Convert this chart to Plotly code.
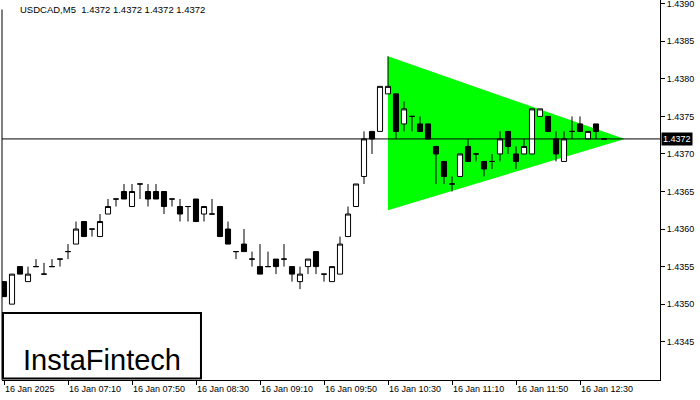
import plotly.graph_objects as go

# ---- data -------------------------------------------------------------
bar_index = list(range(76))
opens = [1.4353, 1.4350, 1.4355, 1.4353, 1.4355, 1.4354, 1.4355, 1.4356, 1.4357, 1.4358,
         1.4361, 1.4360, 1.4359, 1.4362, 1.4364, 1.4365, 1.4363, 1.4366, 1.4365, 1.4365,
         1.4365, 1.4364, 1.4363, 1.4363, 1.4364, 1.4362, 1.4362, 1.4363, 1.4360, 1.4357,
         1.4358, 1.4356, 1.4355, 1.4355, 1.4356, 1.4356, 1.4355, 1.4353, 1.4355, 1.4357,
         1.4354, 1.4353, 1.4354, 1.4359, 1.4363, 1.4367, 1.4373, 1.4373, 1.4378, 1.4378,
         1.4374, 1.4375, 1.4374, 1.4374, 1.4371, 1.4369, 1.4366, 1.4367, 1.4371, 1.4370,
         1.4369, 1.4369, 1.4370, 1.4373, 1.4370, 1.4370, 1.4370, 1.4375, 1.4375, 1.4372,
         1.4369, 1.4373, 1.4374, 1.4372, 1.4374, 1.4372]
highs = [1.4353, 1.4354, 1.4355, 1.4355, 1.4356, 1.43555, 1.4356, 1.4356, 1.4358, 1.4361,
         1.4361, 1.4360, 1.4362, 1.4364, 1.4364, 1.4366, 1.4366, 1.4366, 1.4366, 1.4366,
         1.4365, 1.4364, 1.4364, 1.4363, 1.4364, 1.4363, 1.4364, 1.4363, 1.4361, 1.4357,
         1.4360, 1.4357, 1.4358, 1.4357, 1.4356, 1.4358, 1.4355, 1.4355, 1.4356, 1.4357,
         1.4354, 1.4355, 1.4359, 1.4363, 1.4366, 1.4373, 1.4373, 1.4379, 1.4383, 1.4378,
         1.4377, 1.4375, 1.4375, 1.4374, 1.4371, 1.4369, 1.4367, 1.4370, 1.4372, 1.4370,
         1.4369, 1.4370, 1.4373, 1.4373, 1.4371, 1.4372, 1.4376, 1.4376, 1.4375, 1.4373,
         1.4373, 1.4375, 1.4375, 1.4373, 1.4374, 1.4372]
lows = [1.4351, 1.4350, 1.4354, 1.4353, 1.4355, 1.4354, 1.4355, 1.4355, 1.4356, 1.4358,
        1.4359, 1.4359, 1.4359, 1.4362, 1.4363, 1.4364, 1.4363, 1.4364, 1.4363, 1.4364,
        1.4362, 1.4363, 1.4361, 1.4361, 1.4361, 1.4361, 1.4362, 1.4359, 1.4358, 1.4356,
        1.4357, 1.4355, 1.4354, 1.4355, 1.4354, 1.4355, 1.4353, 1.4352, 1.4354, 1.4354,
        1.4353, 1.4353, 1.4354, 1.4359, 1.4363, 1.4366, 1.4370, 1.4373, 1.4378, 1.4372,
        1.4373, 1.4373, 1.4373, 1.4372, 1.4366, 1.4366, 1.4365, 1.4367, 1.4369, 1.4369,
        1.4367, 1.4368, 1.4369, 1.4370, 1.4368, 1.4370, 1.4370, 1.4375, 1.4373, 1.4369,
        1.4369, 1.4372, 1.4373, 1.4372, 1.4372, 1.4372]
closes = [1.4351, 1.4354, 1.4354, 1.4354, 1.4355, 1.4354, 1.4355, 1.4356, 1.4357, 1.4360,
          1.4359, 1.4360, 1.4361, 1.4363, 1.4364, 1.4364, 1.4365, 1.4366, 1.4364, 1.4364,
          1.4363, 1.4364, 1.4362, 1.4363, 1.4361, 1.4363, 1.4362, 1.4359, 1.4358, 1.4357,
          1.4357, 1.4356, 1.4354, 1.4355, 1.4355, 1.4356, 1.4354, 1.4354, 1.4356, 1.4355,
          1.4354, 1.4355, 1.4358, 1.4362, 1.4366, 1.4372, 1.4372, 1.4379, 1.4379, 1.4373,
          1.4376, 1.4375, 1.4373, 1.4372, 1.4370, 1.4367, 1.4366, 1.4370, 1.4369, 1.4370,
          1.4368, 1.4369, 1.4372, 1.4371, 1.4369, 1.4371, 1.4376, 1.4376, 1.4373, 1.4370,
          1.4372, 1.4373, 1.4373, 1.4373, 1.4373, 1.4372]

time_tick_index = [0, 8, 16, 24, 32, 40, 48, 56, 64, 72]
time_tick_labels = ["16 Jan 2025", "16 Jan 07:10", "16 Jan 07:50", "16 Jan 08:30",
                    "16 Jan 09:10", "16 Jan 09:50", "16 Jan 10:30", "16 Jan 11:10",
                    "16 Jan 11:50", "16 Jan 12:30"]
price_ticks = [1.4345, 1.4350, 1.4355, 1.4360, 1.4365, 1.4370, 1.4375, 1.4380, 1.4385, 1.4390]

triangle_x = [48, 77.6, 48]
triangle_y = [1.4383, 1.4372, 1.43625]

current_price = 1.4372
title_text = "USDCAD,M5  1.4372 1.4372 1.4372 1.4372"
brand_text = "InstaFintech"

# ---- figure -----------------------------------------------------------
fig = go.Figure()

fig.add_trace(go.Candlestick(
    x=bar_index, open=opens, high=highs, low=lows, close=closes,
    increasing=dict(line=dict(color="black", width=1), fillcolor="white"),
    decreasing=dict(line=dict(color="black", width=1), fillcolor="black"),
    whiskerwidth=0, showlegend=False, hoverinfo="skip"))

axis_font = dict(family="Liberation Sans, Arial, sans-serif", size=9, color="black")

fig.update_layout(
    width=700, height=400,
    margin=dict(l=2, r=40, t=0, b=20, pad=0, autoexpand=False),
    paper_bgcolor="white", plot_bgcolor="white",
    boxgap=0.2, boxgroupgap=0.2,
    showlegend=False, hovermode=False,
    xaxis=dict(range=[-0.25, 82], showgrid=False, zeroline=False, automargin=False,
               showline=True, linecolor="black", linewidth=1,
               ticks="outside", ticklen=4, tickcolor="black", tickwidth=1,
               tickvals=time_tick_index, ticktext=time_tick_labels,
               ticklabelposition="outside right", tickfont=axis_font,
               ticklabeloverflow="allow",
               rangeslider=dict(visible=False), fixedrange=True),
    yaxis=dict(range=[1.43399, 1.43905], side="right", showgrid=False, zeroline=False,
               automargin=False,
               showline=True, linecolor="black", linewidth=1,
               ticks="outside", ticklen=4, tickcolor="black", tickwidth=1,
               tickvals=price_ticks, ticktext=[f"{v:.4f}" for v in price_ticks],
               tickfont=axis_font, ticklabeloverflow="allow", fixedrange=True),
)

# triangle pattern, drawn beneath the candles
tri_path = "M " + " L ".join(f"{x},{y}" for x, y in zip(triangle_x, triangle_y)) + " Z"
fig.add_shape(type="path", xref="x", yref="y", path=tri_path,
              fillcolor="#00ff00", line=dict(width=0), layer="below")

# left border of the chart frame
fig.add_shape(type="line", xref="paper", yref="paper", x0=0, x1=0, y0=0, y1=0.975,
              line=dict(color="black", width=1))
# bid line
fig.add_shape(type="line", xref="paper", yref="y", x0=0, x1=1, y0=current_price, y1=current_price,
              line=dict(color="black", width=1), layer="above")
# logo box
fig.add_shape(type="rect", xref="paper", yref="paper", x0=0.0015, x1=0.3024, y0=0.004, y1=0.176,
              line=dict(color="black", width=2), fillcolor="white", layer="above")

fig.add_annotation(xref="paper", yref="paper", x=0.0243, y=0.974, xanchor="left", yanchor="middle",
                   text=title_text, showarrow=False,
                   font=dict(family="Liberation Sans, Arial, sans-serif", size=9.5, color="black"))
fig.add_annotation(xref="paper", yref="paper", x=0.152, y=0.052, xanchor="center", yanchor="middle",
                   text=brand_text, showarrow=False,
                   font=dict(family="Liberation Sans, Arial, sans-serif", size=29, color="black"))
fig.add_annotation(xref="paper", yref="y", x=1.0, y=current_price, xanchor="left", yanchor="middle",
                   text=f"{current_price:.4f}", showarrow=False, bgcolor="black", borderpad=1,
                   xshift=1, font=dict(family="Liberation Sans, Arial, sans-serif", size=9, color="white"))

fig.write_html("out.html", config={"displayModeBar": False, "staticPlot": True},
               post_script="document.body.style.margin='0';document.body.style.padding='0';")
